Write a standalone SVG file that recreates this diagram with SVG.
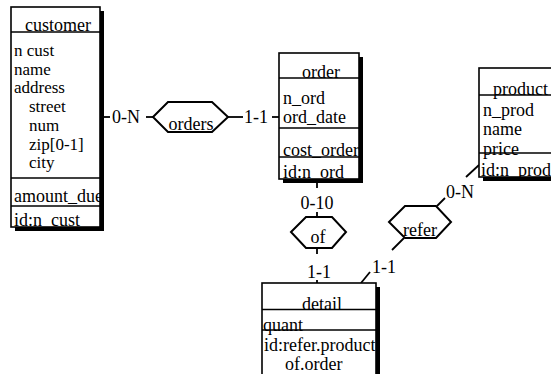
<svg xmlns="http://www.w3.org/2000/svg" width="551" height="374" viewBox="0 0 551 374">
<style>
text{font-family:"Liberation Serif","Times New Roman",serif;font-size:18px;fill:#000}
.a{font-size:17px}
.box{fill:#fff;stroke:#000;stroke-width:1.6}
.sh{fill:#000}
.sep{stroke:#000;stroke-width:1.5}
.hex{fill:#fff;stroke:#000;stroke-width:2}
.con{stroke:#000;stroke-width:1.8;fill:none}
.c{text-anchor:middle}
</style>
<rect width="551" height="374" fill="#fff"/>
<g id="connectors">
<line class="con" x1="104" y1="117" x2="110" y2="117"/>
<line class="con" x1="146" y1="117" x2="153" y2="117"/>
<line class="con" x1="228" y1="117" x2="243" y2="117"/>
<line class="con" x1="272" y1="117" x2="279" y2="117"/>
<line class="con" x1="317" y1="182" x2="317" y2="188"/>
<line class="con" x1="317" y1="212" x2="317" y2="217"/>
<line class="con" x1="317" y1="248" x2="317" y2="254"/>
<line class="con" x1="317" y1="280" x2="317" y2="283"/>
<line class="con" x1="404" y1="238" x2="392" y2="250"/>
<line class="con" x1="370" y1="272" x2="361" y2="283"/>
<line class="con" x1="437" y1="206" x2="445" y2="198"/>
<line class="con" x1="466" y1="177" x2="479" y2="165"/>
<text x="112" y="123">0-N</text>
<text x="244" y="123">1-1</text>
<text class="c" x="317" y="209">0-10</text>
<text class="c" x="319" y="278">1-1</text>
<text x="372" y="273">1-1</text>
<text x="446" y="198">0-N</text>
</g>
<g id="customer">
<rect class="sh" x="15" y="11" width="89" height="220"/>
<rect class="box" x="11" y="7" width="89" height="220"/>
<line class="sep" x1="11" y1="32" x2="100" y2="32"/>
<line class="sep" x1="11" y1="178" x2="100" y2="178"/>
<line class="sep" x1="11" y1="206" x2="100" y2="206"/>
<text x="25" y="31">customer</text>
<text class="a" x="14" y="56">n cust</text>
<text class="a" x="14" y="74.7">name</text>
<text class="a" x="14" y="93.4">address</text>
<text class="a" x="29" y="112.1">street</text>
<text class="a" x="29" y="130.8">num</text>
<text class="a" x="29" y="149.5">zip[0-1]</text>
<text class="a" x="29" y="168.2">city</text>
<text x="14" y="202">amount_due</text>
<text x="14" y="226">id:n_cust</text>
<rect class="sh" x="100.75" y="11" width="3.25" height="220"/>
</g>
<g id="orders">
<polygon class="hex" points="153,117 168,102 212,102 228,117 212,132 168,132"/>
<text class="c" x="191" y="130">orders</text>
</g>
<g id="order">
<rect class="sh" x="283" y="57" width="80" height="126"/>
<rect class="box" x="279" y="53" width="80" height="126"/>
<line class="sep" x1="279" y1="78" x2="359" y2="78"/>
<line class="sep" x1="279" y1="128" x2="359" y2="128"/>
<line class="sep" x1="279" y1="157" x2="359" y2="157"/>
<text x="302" y="78">order</text>
<text x="283" y="104">n_ord</text>
<text x="283" y="123">ord_date</text>
<text x="283" y="156">cost_order</text>
<text x="283" y="178">id:n_ord</text>
</g>
<g id="of">
<polygon class="hex" points="291,232 306,217 332,217 346,232 332,248 306,248"/>
<text class="c" x="318" y="243">of</text>
</g>
<g id="refer">
<polygon class="hex" points="389,222 405,206 436,206 451,222 436,238 405,238"/>
<text class="c" x="420" y="236">refer</text>
</g>
<g id="product">
<rect class="sh" x="483" y="72" width="80" height="109"/>
<rect class="box" x="479" y="68" width="80" height="109"/>
<line class="sep" x1="479" y1="95" x2="559" y2="95"/>
<line class="sep" x1="479" y1="153" x2="559" y2="153"/>
<text x="493" y="95">product</text>
<text x="483" y="116">n_prod</text>
<text x="483" y="135">name</text>
<text x="483" y="155">price</text>
<text x="481" y="176">id:n_prod</text>
</g>
<g id="detail">
<rect class="sh" x="266" y="287" width="114" height="95"/>
<rect class="box" x="262" y="283" width="114" height="95"/>
<line class="sep" x1="262" y1="309.5" x2="376" y2="309.5"/>
<line class="sep" x1="262" y1="330" x2="376" y2="330"/>
<text x="302" y="310">detail</text>
<text x="263" y="331">quant</text>
<text x="264" y="351">id:refer.product</text>
<text x="285" y="370">of.order</text>
<rect class="sh" x="376.75" y="287" width="3.25" height="95"/>
</g>
</svg>
